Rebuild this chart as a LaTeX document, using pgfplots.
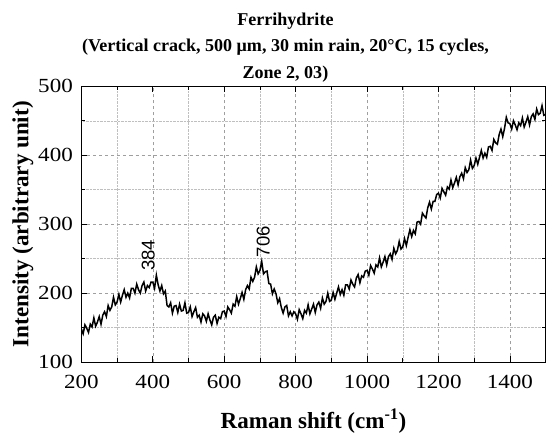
\documentclass[border=0pt]{standalone}
\usepackage{fontspec}
\setmainfont{Liberation Serif}
\newfontfamily\tickfont{Liberation Serif}[FakeStretch=1.15]
\newfontfamily\peakfont{Liberation Sans}
\usepackage{pgfplots}
\pgfplotsset{compat=1.18}
\begin{document}
\begin{tikzpicture}
\begin{axis}[
  scale only axis,
  width=463pt, height=275pt,
  xmin=200, xmax=1500, ymin=100, ymax=500,
  xtick={200,400,...,1400}, ytick={100,200,...,500},
  minor xtick={300,500,...,1500}, minor ytick={150,250,...,450},
  tick pos=both, tick align=inside,
  major tick length=6pt, minor tick length=4pt,
  grid=both,
  major grid style={gray!75, dashed, line width=0.5pt},
  minor grid style={gray!50, densely dotted, line width=0.5pt},
  axis line style={line width=0.8pt},
  tick style={black, line width=0.7pt},
  ticklabel style={font=\tickfont\fontsize{20}{20}\selectfont},
  xticklabel style={yshift=-9.5pt},
  yticklabel style={xshift=-5pt},
  /pgf/number format/assume math mode=true,
  /pgf/number format/1000 sep={},
  title={\rule{0pt}{22pt}Ferrihydrite\\(Vertical crack, 500 μm, 30 min rain, 20°C, 15 cycles,\\Zone 2, 03)},
  title style={font=\bfseries\fontsize{18}{26.5}\selectfont, align=center, xshift=-28pt, yshift=-5.6pt},
  xlabel={Raman shift (cm\textsuperscript{-1})},
  ylabel={Intensity (arbitrary unit)},
  label style={font=\bfseries\fontsize{23}{24}\selectfont},
  xlabel style={inner sep=0pt, yshift=-16.5pt},
  ylabel style={yshift=-2pt},
]
\addplot[black, line width=1.5pt] coordinates {
(200,148) (205,141) (210,154) (215,149) (220,143) (225,155) (230,151) (235,164) (240,152) (245,158)
(250,166) (255,155) (260,168) (265,173) (270,166) (275,182) (280,175) (285,180) (290,194) (295,183)
(300,187) (305,198) (310,187) (315,197) (320,205) (325,194) (330,200) (335,193) (340,207) (345,207)
(350,200) (355,213) (360,205) (365,200) (370,211) (375,216) (380,203) (385,211) (390,208) (395,216)
(400,216) (405,207) (410,226) (415,212) (420,203) (425,211) (430,199) (435,203) (440,182) (445,180)
(450,186) (455,171) (460,181) (465,182) (470,172) (475,184) (480,174) (485,175) (490,186) (495,171)
(500,172) (505,180) (510,166) (515,173) (520,179) (525,165) (530,168) (535,158) (540,170) (545,167)
(550,159) (555,170) (560,161) (565,154) (570,165) (575,168) (580,156) (585,165) (590,163) (595,173)
(600,174) (605,166) (610,180) (615,176) (620,171) (625,184) (630,181) (635,195) (640,184) (645,192)
(650,201) (655,191) (660,205) (665,211) (670,206) (675,223) (680,217) (685,223) (690,238) (695,228)
(700,233) (705,246) (710,228) (715,231) (720,232) (725,214) (730,213) (735,199) (740,206) (745,199)
(750,186) (755,192) (760,179) (765,171) (770,180) (775,182) (780,167) (785,173) (790,167) (795,173)
(800,170) (805,162) (810,176) (815,170) (820,163) (825,175) (830,171) (835,183) (840,170) (845,177)
(850,184) (855,172) (860,183) (865,187) (870,178) (875,193) (880,184) (885,188) (890,200) (895,188)
(900,190) (905,201) (910,191) (915,200) (920,209) (925,198) (930,205) (935,197) (940,212) (945,212)
(950,206) (955,219) (960,213) (965,209) (970,222) (975,227) (980,215) (985,225) (990,223) (995,232)
(1000,233) (1005,226) (1010,240) (1015,235) (1020,229) (1025,241) (1030,238) (1035,251) (1040,238) (1045,245)
(1050,253) (1055,241) (1060,253) (1065,257) (1070,249) (1075,265) (1080,257) (1085,262) (1090,275) (1095,264)
(1100,267) (1105,279) (1110,269) (1115,281) (1120,292) (1125,282) (1130,291) (1135,286) (1140,303) (1145,304)
(1150,300) (1155,316) (1160,312) (1165,309) (1170,324) (1175,332) (1180,322) (1185,333) (1190,333) (1195,343)
(1200,345) (1205,338) (1210,352) (1215,347) (1220,342) (1225,354) (1230,351) (1235,364) (1240,353) (1245,360)
(1250,368) (1255,357) (1260,369) (1265,374) (1270,366) (1275,382) (1280,375) (1285,379) (1290,393) (1295,381)
(1300,385) (1305,396) (1310,387) (1315,397) (1320,407) (1325,396) (1330,403) (1335,397) (1340,412) (1345,413)
(1350,407) (1355,423) (1360,418) (1365,416) (1370,430) (1375,438) (1380,427) (1385,439) (1390,455) (1395,447)
(1400,446) (1405,438) (1410,450) (1415,444) (1420,437) (1425,447) (1430,443) (1435,454) (1440,441) (1445,448)
(1450,456) (1455,444) (1460,456) (1465,460) (1470,452) (1475,467) (1480,459) (1485,461) (1490,472) (1495,458)
(1500,459)
};
\node[rotate=90, anchor=west, font=\peakfont\fontsize{18.5}{18.5}\selectfont, inner sep=0pt] at (axis cs:387,232) {384};
\node[rotate=90, anchor=west, font=\peakfont\fontsize{18.5}{18.5}\selectfont, inner sep=0pt] at (axis cs:709,252) {706};
\end{axis}
\path (current bounding box.west) ++(-9pt,0) coordinate (padleft);
\useasboundingbox (current bounding box.south east) rectangle (padleft);
\end{tikzpicture}
\end{document}
